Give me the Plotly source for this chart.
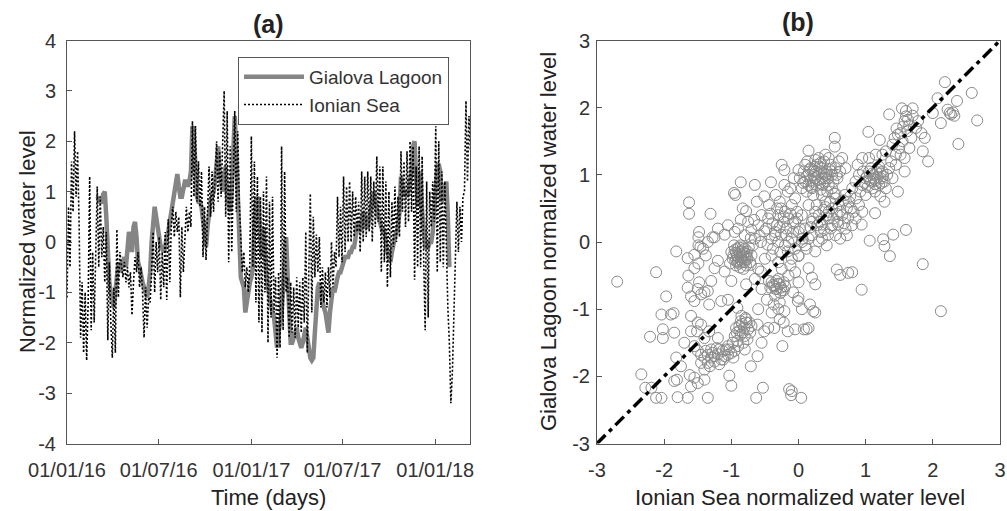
import pandas as pd
import plotly.graph_objects as go

# ---------------- Panel (a): time series (3-day sampling) ----------------
ionian_start = "2016-01-01"
ionian = [-1.1, 0.7, -0.5,
 1.6, 0.6, 2.2, 0.9, 1.8,
 0.4, -1.9, -0.8, -2.2, -1.0, -2.35, -1.2,
 1.3, -1.75,
 -0.2, -1.6, 0.0,
 1.1, -0.5, 0.9, -0.3,
 0.3, -0.8,
 0.2, -1.95, -0.4,
 -1.6, -2.3, -0.9, -2.2,
 0.25, -1.1, -0.2,
 -0.5, -0.7, -0.4, -0.8, -0.5, -0.9,
 -0.6, -1.45,
 -0.8, -0.3, -0.6, -0.2, -0.9, -0.5,
 -1.0, -1.9, -0.9, -1.7, -1.1,
 -1.2, -0.6,
 0.2, -1.0, 0.0,
 -0.6, 0.1, -1.15, -0.2, -0.9, 0.2,
 -1.15, 0.45, -0.8, 0.3,
 0.7, 0.1, 0.6, 0.2, 0.5,
 -1.1, 0.3, -0.6,
 0.05, 0.7, 0.2, 0.6, 0.3,
 2.4, 0.9, 2.3,
 0.8, 1.6, 0.7, 1.4,
 -0.3, 0.7, -0.36, 0.5,
 1.5, 0.5, 1.4, 0.6, 1.2,
 2.0, 0.8, 1.8, 0.9, 1.9,
 3.0, 0.5, 2.6,
 -0.4, 1.9, -0.2, 1.5,
 2.6, 0.6, 2.2,
 0.8, 0.0, -0.6, -0.2, -0.9, -0.5, -1.0, -0.4,
 2.1, -0.5,
 1.6, -1.2, 1.3, -1.6, 0.9,
 -1.8, 1.0, -1.0,
 1.3, -2.0, 0.8, -1.5,
 0.9, -1.4,
 -0.7, -2.3, -0.6, -2.1,
 1.9, -1.75, 1.4, -1.0,
 -0.7, -1.9, -0.8, -1.8, -0.9, -1.9, -0.7, -1.7,
 -0.8, -1.8, -0.7, -1.6,
 0.2, -2.2, -0.3,
 0.96, -1.4, 0.5,
 -0.7, 0.15, -0.6, 0.1,
 -1.3, -0.5, -1.2, -0.6, -1.3, -0.5,
 -1.1, 0.0, -0.9, -0.2,
 -0.5, 0.9, -0.3, 0.7, -0.4,
 1.3, -0.2, 1.1, 0.0, 1.2,
 0.0, 1.0, 0.1, 0.9, 0.2, 0.8,
 -0.2, 1.4, 0.0, 1.3,
 0.1, 1.4, 0.2, 1.3, 0.0, 1.2,
 0.3, 1.7, 0.4, 1.5,
 -0.6, 1.5, -0.4, 1.2,
 -0.9, 1.0, -0.7, 0.8,
 -0.1, 1.1, 0.0, 0.9, 0.1,
 1.8, 0.6,
 1.6, 0.3, 1.8, 0.4, 2.0, 0.6,
 1.9, -0.75, 1.5, -0.5, 1.9,
 -0.5, 1.7, -0.3,
 -1.75, 1.2, -1.5, 1.0,
 0.3, 1.2, 0.4,
 2.3, -0.6, 2.0, -0.4,
 1.4, -0.5, 1.2, -0.3,
 -1.3, -2.0, -3.2, -2.6, -1.5,
 -0.3, 0.8, -0.2, 0.7, 0.0, 0.9,
 1.0, 2.8, 1.2, 2.5,
 1.8]

gialova_start = "2016-03-01"
gialova = [0.85, 0.9, 0.8, 0.8, 0.95, 1.0, 0.5, -0.2, -0.8, -1.0,
 -1.2, -1.3, -1.0, -0.6, -0.4, -0.6, -0.5, -0.4, -0.3, -0.5,
 -0.1, 0.2, 0.1, -0.2, 0.3, 0.4, 0.1, -0.4, -0.5, -0.7,
 -0.8, -0.9, -1.0, -1.1, -0.9, -0.6, 0.0, 0.4, 0.7, 0.5,
 0.2, 0.1, -0.1, -0.1, -0.2, -0.1, 0.1, 0.2, 0.4, 0.6,
 0.8, 1.0, 1.3, 1.35, 1.1, 0.9, 0.9, 1.1, 1.2, 1.2,
 1.1, 1.2, 1.4, 2.3, 2.1, 1.5, 0.9, 0.8, 0.8, 0.7,
 0.4, 0.1, -0.1, 0.3, 0.6, 0.8, 0.9, 1.0, 1.2, 1.5,
 1.9, 1.4, 1.1, 1.0, 1.3, 1.5, 0.9, 0.7, 0.6, 1.0,
 1.8, 2.5, 1.8, 0.8, 0.0, -0.7, -0.8, -0.9, -1.4, -1.2,
 -0.9, -0.8, -0.7, -0.5, 0.3, 0.8, 0.9, 0.7, 0.0, -0.3,
 0.3, -0.4, -0.7, -0.9, -1.1, -1.2, -1.4, -1.5, -1.9, -2.1,
 -1.8, -1.6, -1.4, -0.9, -0.4, 0.1, -0.7, -1.4, -2.0, -2.0,
 -1.9, -1.8, -1.7, -1.9, -2.0, -2.1, -2.0, -1.8, -1.7, -1.9,
 -2.2, -2.3, -2.35, -2.3, -1.8, -1.2, -0.9, -0.8, -1.1, -1.2,
 -1.3, -1.4, -1.6, -1.8, -1.4, -1.1, -0.9, -1.0, -0.8, -0.7,
 -0.6, -0.6, -0.5, -0.4, -0.3, -0.3, -0.3, -0.2, -0.2, -0.1,
 -0.1, 0.1, 0.4, 0.3, 0.2, 0.4, 0.6, 0.5, 0.3, 0.3,
 0.5, 0.7, 0.9, 1.0, 0.8, 0.6, 0.5, 0.4, 0.3, 0.2,
 0.2, -0.1, -0.2, -0.3, -0.4, -0.2, 0.0, 0.1, 0.2, 0.3,
 0.6, 1.3, 1.1, 0.9, 1.0, 0.9, 1.0, 1.2, 1.4, 1.9,
 2.0, 1.3, 0.7, 1.2, 1.4, 0.6, 0.2, -0.1, -0.1, -0.1,
 0.0, 0.0, 0.2, 0.6, 1.0, 1.5, 1.55, 1.4, 0.8, 0.9,
 1.1, 1.2, 0.5, -0.5]

time_ticks = ["2016-01-01", "2016-07-01", "2017-01-01", "2017-07-01", "2018-01-01"]
time_ticktext = ["01/01/16", "01/07/16", "01/01/17", "01/07/17", "01/01/18"]
time_range = ["2016-01-01", "2018-03-11"]
level_ticks_a = [-4, -3, -2, -1, 0, 1, 2, 3, 4]
level_ticks_b = [-3, -2, -1, 0, 1, 2, 3]

# ---------------- Panel (b): scatter, read region by region ----------------
ion_g1 = [-2.70,-2.12,-1.82,-1.63,-1.63,-1.31,-1.97,-2.04,-1.90,-1.86,-2.02,-2.21,-2.02,-1.85,-1.70,-1.60,-1.51,-2.34,-2.19,-2.28,-2.04,-2.12,-1.80,-1.65,-1.85,-1.81,-1.55,-1.60,-1.50,-1.35,-1.40,-1.82,-1.62,-1.75,-1.00,-1.03,-0.63,-0.53,-0.14,-0.11,0.04,-0.10]
gia_g1 = [-0.59,-0.45,-0.14,0.59,0.42,0.42,-0.81,-1.08,-1.08,-1.06,-1.30,-1.41,-1.43,-1.35,-1.50,-1.33,-1.33,-1.97,-2.17,-2.17,-2.32,-2.32,-2.31,-2.32,-2.07,-2.05,-2.02,-2.15,-2.10,-2.32,-2.05,-1.72,-1.98,-1.85,-2.14,-1.99,-2.32,-2.17,-2.19,-2.28,-2.32,-2.22]

ion_g2 = [-1.49,-1.49,-1.48,-1.46,-1.28,-1.25,-1.10,-1.55,-1.49,-1.64,-1.65,-1.55,-1.25,-1.10,-1.65,-1.60,-1.55,-1.45,-1.35,-1.33,-1.50,-1.48,-1.40,-1.15,-1.05,-1.30,-1.20,-1.38,-1.42,-1.35,-1.20]
gia_g2 = [0.07,-0.05,0.15,-0.07,0.07,0.07,0.11,-0.19,-0.32,-0.50,-0.24,-0.39,-0.39,-0.44,-0.68,-0.81,-0.88,-0.78,-0.73,-0.93,-0.70,-0.60,-0.75,-0.88,-0.86,-0.58,-0.28,-0.20,-0.10,0.00,0.20]

ion_g3 = [-0.95,-0.92,-0.90,-0.88,-0.85,-0.83,-0.80,-0.78,-0.76,-0.93,-0.87,-0.82,-0.98,-1.00,-0.96,-0.86,-0.74,-0.72,-0.90,-0.84,-0.80,-0.88,-1.02,-0.70,-0.94,-0.78,-0.86,-0.82,-0.91,-0.76,
          -0.97,-0.93,-0.89,-0.85,-0.81,-0.77,-0.91,-0.83,-0.87,-0.79]
gia_g3 = [-0.12,-0.20,-0.28,-0.15,-0.22,-0.30,-0.10,-0.18,-0.25,-0.35,-0.38,-0.40,-0.25,-0.15,-0.05,-0.05,-0.08,-0.30,-0.22,-0.14,-0.30,-0.32,-0.32,-0.20,-0.28,-0.35,-0.26,-0.20,-0.10,-0.14,
          -0.20,-0.16,-0.08,-0.28,-0.16,-0.22,-0.30,-0.08,-0.18,-0.26]

ion_g4 = [-0.86,-0.65,-0.96,-0.94,-0.83,-0.78,-0.86,-0.66,-0.71,-0.56,-0.51,-0.60,-0.90,-0.80,-0.70,-0.65,-0.55,-0.75,-1.05,-0.95,-0.62,-0.58,-0.68]
gia_g4 = [0.89,0.85,0.73,0.70,0.50,0.46,0.33,0.33,0.06,0.00,0.16,0.25,0.20,0.10,0.18,0.05,0.40,0.30,0.25,0.15,0.60,0.10,-0.05]

ion_g5 = [-0.41,-0.21,-0.51,-0.34,-0.16,-0.44,-0.26,-0.10,-0.39,-0.05,-0.26,-0.46,-0.30,-0.25,-0.21,0.00,-0.07,-0.12,-0.30,-0.20,-0.15,-0.35,-0.40,-0.18,-0.08,-0.28,-0.05,-0.45,-0.20,-0.10,-0.32,-0.48,-0.22,-0.02,
          -0.35,-0.28,-0.18,-0.08,0.02,-0.42,-0.32,-0.22,-0.12,-0.02,-0.38,-0.27,-0.15,-0.05,0.06]
gia_g5 = [0.89,0.85,0.68,0.70,0.75,0.55,0.50,0.55,0.28,0.30,0.11,-0.04,0.00,1.15,1.07,1.07,0.95,0.80,0.40,0.45,0.35,0.15,0.05,0.20,0.15,0.60,0.65,0.35,-0.05,0.05,0.25,0.20,0.30,0.45,
          0.10,0.22,0.10,0.28,0.20,0.42,0.50,0.38,0.42,0.35,-0.10,-0.15,0.00,-0.10,0.05]

ion_g6 = [-0.16,0.00,-0.71,-0.56,-0.44,-0.36,-0.28,-0.20,-0.32,-0.25,-0.40,-0.30,-0.22,-1.00,-0.78,-0.60,-0.47,-0.37,-0.28,-0.21,-0.01,0.05,-0.12,-0.05,-0.15,-0.50,-0.40,-0.30,-0.10,-0.25,-0.55,-0.65,-0.08,0.00,-0.35,
          -0.38,-0.34,-0.30,-0.26,-0.22,-0.33,-0.27,-0.42]
gia_g6 = [-0.14,-0.20,-0.34,-0.44,-0.58,-0.66,-0.63,-0.66,-0.70,-0.72,-0.60,-0.55,-0.60,-0.58,-0.63,-0.40,-0.86,-0.93,-0.90,-1.03,-0.88,-1.00,-0.35,-0.45,-0.50,-0.25,-0.20,-0.30,-0.25,-0.40,-0.70,-0.55,-0.75,-0.60,-0.80,
          -0.64,-0.70,-0.62,-0.68,-0.72,-0.58,-0.76,-0.68]

ion_g7 = [-0.91,-0.86,-0.81,-0.79,-0.73,-0.93,-0.86,-0.91,-0.80,-0.75,-0.84,-0.88,-0.78,-0.70,-0.95,-0.82,-0.76,-0.90,-0.85,-0.72,
          -0.88,-0.83,-0.78,-0.92]
gia_g7 = [-0.98,-1.18,-1.28,-1.13,-1.20,-1.28,-1.38,-1.47,-1.40,-1.30,-1.22,-1.32,-1.20,-1.25,-1.40,-1.50,-1.45,-1.55,-1.10,-1.35,
          -1.25,-1.35,-1.15,-1.35]

ion_g8 = [-0.61,-0.51,-0.45,-0.28,-0.36,-0.16,-0.24,-0.05,-0.60,-0.55,-0.40,-0.22,0.15,0.08,-0.61,-0.71,-0.30]
gia_g8 = [-1.23,-1.33,-1.28,-1.15,-1.28,-1.33,-1.55,-1.30,-1.00,-1.50,-1.05,-1.20,-1.28,-1.30,-1.70,-1.85,-1.00]

ion_g9 = [-1.55,-1.50,-1.40,-1.35,-1.30,-1.20,-1.13,-1.08,-1.03,-0.97,-1.25,-1.15,-1.45,-1.38,-1.28,-1.10,-1.00,-1.18,-1.32,-1.45,-1.05,-0.95,-1.22,-1.40,-1.45,-1.33,-1.40,-1.20,-1.60,-1.50,
          -1.25,-1.18,-1.12,-1.05,-1.30,-1.35,-0.98,-0.80]
gia_g9 = [-1.55,-1.62,-1.72,-1.80,-1.72,-1.67,-1.62,-1.60,-1.60,-1.72,-1.78,-1.75,-1.68,-1.62,-1.65,-1.70,-1.65,-1.82,-1.85,-1.80,-1.55,-1.62,-1.58,-1.90,-1.23,-1.33,-1.43,-1.43,-1.10,-1.20,
          -1.70,-1.60,-1.75,-1.68,-1.60,-1.68,-1.50,-1.60]

ion_g10 = [0.05,0.10,0.15,0.18,0.22,0.25,0.28,0.30,0.32,0.35,0.38,0.40,0.42,0.45,0.48,0.50,0.52,0.55,0.20,0.12,0.08,0.25,0.33,0.43,0.58,0.60,0.15,0.35,0.27,0.45,0.02,0.18,0.38,0.50,0.62,0.30,0.22,0.10,0.40,0.55,0.15,0.54,0.54,0.65,0.70,
           0.12,0.17,0.21,0.26,0.31,0.36,0.41,0.46,0.13,0.24,0.34,0.44,0.19,0.29,0.39,0.49,0.23,0.33,0.07,0.57]
gia_g10 = [0.80,0.90,1.00,1.10,1.05,0.95,1.15,1.02,0.88,1.10,1.20,0.95,1.05,0.85,1.15,1.00,0.90,1.10,0.80,0.75,1.05,1.22,0.78,0.75,0.95,1.20,0.85,0.95,0.85,1.25,0.95,0.92,1.02,0.80,1.05,1.25,0.70,1.15,1.30,0.72,1.36,1.55,1.42,1.25,1.10,
           0.98,1.08,0.90,1.05,1.12,0.85,1.00,1.08,1.20,1.12,1.05,0.95,0.82,0.92,0.88,1.05,1.00,1.18,0.88,1.00]

ion_g11 = [0.85,0.90,0.95,1.00,1.05,1.08,1.10,1.12,1.15,1.18,1.20,1.22,1.25,1.28,1.30,1.32,1.35,0.92,1.00,0.80,1.40,1.38,0.88,1.04,1.21,1.15,0.95,1.05,1.25,1.45,1.58,1.58,1.48,1.28,1.14,0.94,1.14,1.22,
           0.98,1.02,1.06,1.10,1.14,1.18,1.22,1.26,0.96,1.08,1.16,1.24,1.03,1.12,1.20]
gia_g11 = [0.90,1.00,0.85,0.95,1.05,0.90,0.80,1.00,0.92,1.08,0.85,0.95,1.05,0.90,0.80,1.00,1.10,0.75,0.70,0.80,0.95,1.20,1.15,1.64,1.52,1.30,1.25,1.25,1.30,1.30,1.25,1.05,0.75,0.60,0.43,0.26,0.75,0.68,
           0.88,0.98,0.92,1.02,0.86,0.96,1.02,0.98,1.05,1.10,1.04,0.88,0.82,0.94,1.12]

ion_g12 = [0.35,0.45,0.59,0.74,0.78,0.44,0.30,0.15,0.25,0.05,0.10,0.35,0.55,0.70,0.80,0.86,0.69,0.50,0.25,0.40,0.60,0.20,0.10,0.30,0.65,0.90,0.50,0.20,0.38,0.62,0.75,0.55,0.45,0.15,0.05,0.35,0.95,0.85,0.72,0.28,0.12,0.42,0.00,
           0.22,0.32,0.42,0.52,0.62,0.72,0.27,0.37,0.47,0.57,0.67,0.77,0.33,0.48,0.58,0.68,0.18,0.40,0.53,0.82]
gia_g12 = [0.26,0.35,0.26,0.36,0.50,0.11,0.01,0.05,-0.14,0.00,-0.05,0.05,0.10,0.20,0.25,0.65,0.70,0.50,0.45,0.60,0.55,0.30,0.20,0.40,0.40,0.55,0.25,0.10,0.18,0.05,0.60,0.65,0.45,0.55,0.40,0.70,0.45,0.35,0.10,0.25,-0.10,-0.05,0.15,
           0.35,0.30,0.40,0.35,0.45,0.50,0.55,0.48,0.60,0.42,0.62,0.68,0.15,0.20,0.30,0.28,0.22,0.52,0.72,0.45]

ion_g13 = [1.06,1.26,1.28,1.36,1.41,1.60,1.85,2.12,0.94,0.57,0.62,0.74,0.80,0.00,0.15,0.20,0.25,0.00,0.17,0.22,0.25,0.12]
gia_g13 = [0.02,0.04,-0.06,-0.21,0.11,0.18,-0.33,-1.03,-0.71,-0.41,-0.49,-0.46,-0.45,-0.21,-0.39,-0.53,-0.63,-0.83,-0.93,-1.03,-1.05,-1.30]

ion_g14 = [2.18,2.58,2.36,2.07,2.22,2.27,2.32,2.30,2.25,2.66,2.12,2.38,2.00,1.35,1.54,1.70,1.60,1.65,1.83,1.88,1.85,1.93,1.46,1.52,1.43,1.40,1.50,1.62,1.75,1.68,1.55,1.78,1.30,1.45,1.65,1.60,1.58,
           1.48,1.56,1.63,1.70,1.52]
gia_g14 = [2.38,2.22,2.10,2.14,1.97,1.90,1.88,1.93,1.92,1.81,1.77,1.46,1.92,1.90,1.99,1.99,1.87,1.74,1.62,1.55,1.35,1.20,1.69,1.62,1.55,1.45,1.40,1.65,1.70,1.55,1.50,1.80,1.35,1.15,1.40,1.95,1.80,
           1.60,1.72,1.82,1.88,1.30]

one_to_one = [-3, 3]

ion_groups = [ion_g1, ion_g2, ion_g3, ion_g4, ion_g5, ion_g6, ion_g7, ion_g8, ion_g9, ion_g10, ion_g11, ion_g12, ion_g13, ion_g14]
gia_groups = [gia_g1, gia_g2, gia_g3, gia_g4, gia_g5, gia_g6, gia_g7, gia_g8, gia_g9, gia_g10, gia_g11, gia_g12, gia_g13, gia_g14]
ion_sc, gia_sc = [], []
for a, b in zip(ion_groups, gia_groups):
    n = min(len(a), len(b))
    ion_sc += a[:n]
    gia_sc += b[:n]

ion_dates = pd.date_range(ionian_start, periods=len(ionian), freq="3D")
gia_dates = pd.date_range(gialova_start, periods=len(gialova), freq="3D")

FONT = "Liberation Sans, Arial, sans-serif"
TXT = "#333333"
AX = "#555555"
W, H = 1007, 511


def label(v):
    return "%d" % v  # hyphen-minus, as in the original


fig = go.Figure()
fig.add_trace(go.Scatter(x=gia_dates, y=gialova, mode="lines", name="Gialova Lagoon",
                         line=dict(color="#858585", width=4.5), xaxis="x", yaxis="y"))
fig.add_trace(go.Scatter(x=ion_dates, y=ionian, mode="lines", name="Ionian Sea",
                         line=dict(color="black", width=1.6, dash="2px,2px"), xaxis="x", yaxis="y"))
fig.add_trace(go.Scatter(x=ion_sc, y=gia_sc, mode="markers", showlegend=False,
                         marker=dict(symbol="circle-open", size=11, color="#8a8a8a",
                                     line=dict(width=1, color="#8a8a8a")),
                         xaxis="x2", yaxis="y2"))
fig.add_trace(go.Scatter(x=one_to_one, y=one_to_one, mode="lines", showlegend=False,
                         line=dict(color="black", width=3.5, dash="12px,5px,4px,5px"),
                         xaxis="x2", yaxis="y2"))

ydom = [1 - 443.5 / H, 1 - 40.5 / H]
common = dict(showline=True, linecolor=AX, linewidth=1, mirror=True, ticks="inside",
              ticklen=5, tickcolor=AX, showgrid=False, zeroline=False, automargin=False,
              tickfont=dict(family=FONT, size=20, color=TXT))

fig.update_layout(
    width=W, height=H, margin=dict(l=0, r=0, t=0, b=0, autoexpand=False),
    paper_bgcolor="white", plot_bgcolor="white",
    xaxis=dict(domain=[67 / W, 470 / W], range=time_range, type="date",
               tickvals=time_ticks, ticktext=time_ticktext, anchor="y",
               ticklabelstandoff=8, **common),
    yaxis=dict(domain=ydom, range=[-4, 4], tickvals=level_ticks_a,
               ticktext=[label(v) for v in level_ticks_a],
               anchor="x", ticklabelstandoff=6, **common),
    xaxis2=dict(domain=[597 / W, 1000 / W], range=[-3, 3], tickvals=level_ticks_b,
                ticktext=[label(v) for v in level_ticks_b],
                anchor="y2", ticklabelstandoff=8, **common),
    yaxis2=dict(domain=ydom, range=[-3, 3], tickvals=level_ticks_b,
                ticktext=[label(v) for v in level_ticks_b],
                anchor="x2", ticklabelstandoff=2, **common),
    legend=dict(x=238 / W, y=1 - 57 / H, xanchor="left", yanchor="top",
                bordercolor=AX, borderwidth=1, bgcolor="white",
                font=dict(family=FONT, size=19, color=TXT), tracegroupgap=0,
                itemwidth=60),
    showlegend=True,
)

ann = [
    dict(text="<b>(a)</b>", x=268 / W, y=1 - 24 / H, size=25),
    dict(text="<b>(b)</b>", x=798 / W, y=1 - 22 / H, size=25),
    dict(text="Time (days)", x=268 / W, y=1 - 497 / H, size=22),
    dict(text="Ionian Sea normalized water level", x=800 / W, y=1 - 497 / H, size=22),
    dict(text="Normalized water level", x=27 / W, y=1 - 242 / H, size=22, angle=-90),
    dict(text="Gialova Lagoon normalized water level", x=548 / W, y=1 - 242 / H, size=22, angle=-90),
]
for a in ann:
    fig.add_annotation(text=a["text"], x=a["x"], y=a["y"], xref="paper", yref="paper",
                       xanchor="center", yanchor="middle", showarrow=False,
                       textangle=a.get("angle", 0),
                       font=dict(family=FONT, size=a["size"], color="#222222"))

# the page's default 8px body margin would shift the whole figure; remove it
fig.write_html("out.html", config={"displayModeBar": False},
               post_script="document.body.style.margin='0';document.body.style.overflow='hidden';")
